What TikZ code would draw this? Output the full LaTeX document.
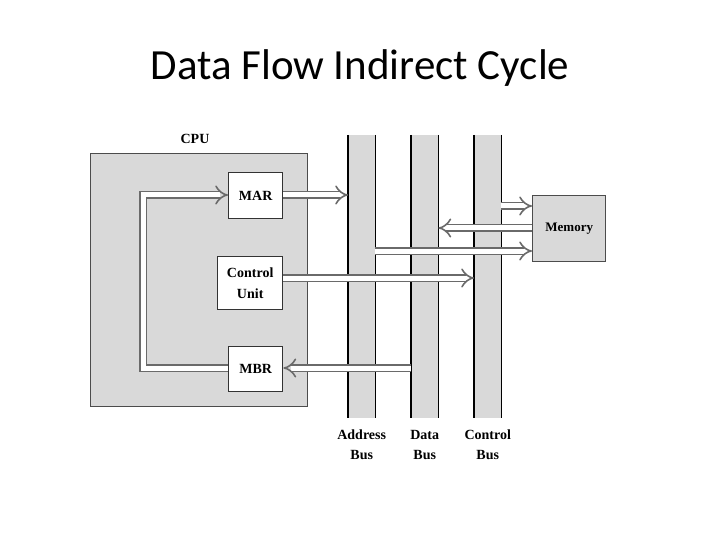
\documentclass[tikz,border=0pt]{standalone}
\usepackage{fontspec}
\setmainfont{Liberation Serif}
\newfontfamily\titlefont{Carlito}
\usetikzlibrary{arrows.meta}
\definecolor{fillg}{HTML}{D9D9D9}
\definecolor{lineg}{HTML}{6A6A6A}
\begin{document}
\begin{tikzpicture}[x=1pt,y=-1pt,
  box/.style={draw=black!80,line width=1.4pt,fill=white,inner sep=0pt,font=\bfseries\fontsize{14}{15}\selectfont},
  graybox/.style={draw=black!70,line width=1.4pt,fill=fillg,inner sep=0pt},
  bus/.style={fill=fillg,draw=none},
  hollow/.style={draw=lineg,line width=1.6pt,double=white,double distance=5pt,-{Implies[length=9pt,width=16pt]}},
  lbl/.style={font=\bfseries\fontsize{14}{20}\selectfont,align=center}]
\useasboundingbox (0,0) rectangle (720,540);
\node[font=\titlefont\fontsize{43}{46}\selectfont] (title) at (360,68) {Data Flow Indirect Cycle};
% CPU
\node[graybox,minimum width=217pt,minimum height=253pt,anchor=north west] (cpu) at (90,153) {};
\node[lbl] (cpulbl) at (195,139) {CPU};
\node[box,minimum width=54pt,minimum height=46pt,anchor=north west] (mar) at (228,172) {MAR};
\node[box,minimum width=65pt,minimum height=53pt,anchor=north west,align=center,font=\bfseries\fontsize{14}{21}\selectfont] (cu) at (217,256) {Control\\Unit};
\node[box,minimum width=54pt,minimum height=45pt,anchor=north west] (mbr) at (228,346) {MBR};
% buses
\node[bus,minimum width=27pt,minimum height=283pt,anchor=north west,inner sep=0pt] (ab) at (348,135) {};
\node[bus,minimum width=27pt,minimum height=283pt,anchor=north west,inner sep=0pt] (db) at (411,135) {};
\node[bus,minimum width=27pt,minimum height=283pt,anchor=north west,inner sep=0pt] (cb) at (474,135) {};
\foreach \b in {ab,db,cb}{
  \draw[line width=1.8pt] (\b.north west) -- (\b.south west);
  \draw[line width=1.8pt] (\b.north east) -- (\b.south east);
}
\node[graybox,minimum width=73pt,minimum height=66pt,anchor=north west,font=\bfseries\fontsize{13}{14}\selectfont] (mem) at (532,195) {Memory};
% connectors
\coordinate (l1) at (143,368);
\coordinate (l2) at (143,195);
\draw[hollow] (mbr.west |- 0,368) -- (l1) -- (l2) -- (mar.west |- 0,195);
\draw[hollow] (mar.east |- 0,195) -- (ab.west |- 0,195);
\draw[hollow] (cu.east |- 0,278) -- (cb.west |- 0,278);
\draw[hollow] (db.west |- 0,368) -- (mbr.east |- 0,368);
\draw[hollow] (mem.west |- 0,228) -- (db.east |- 0,228);
\draw[hollow] (cb.east |- 0,206) -- (mem.west |- 0,206);
\draw[hollow] (ab.east |- 0,251) -- (mem.west |- 0,251);
% labels
\node[lbl] (al) at (ab.south |- 0,445) {Address\\Bus};
\node[lbl] (dl) at (db.south |- 0,445) {Data\\Bus};
\node[lbl] (cl) at (cb.south |- 0,445) {Control\\Bus};
\end{tikzpicture}
\end{document}
